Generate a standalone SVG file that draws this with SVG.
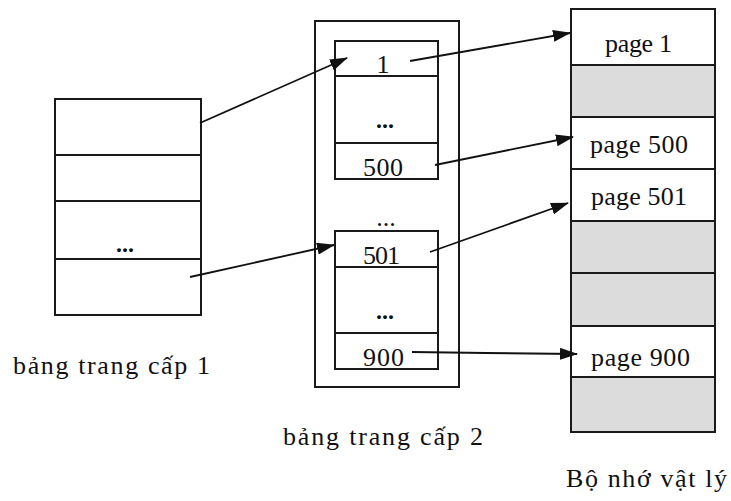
<svg xmlns="http://www.w3.org/2000/svg" width="731" height="501" viewBox="0 0 731 501">
<style>
  .box { fill: #ffffff; stroke: #1a1a1a; stroke-width: 2; }
  .ln { stroke: #1a1a1a; stroke-width: 1.8; fill: none; }
  .gray { fill: #dcdcdc; stroke: #1a1a1a; stroke-width: 2; }
  .t { font-family: "Liberation Serif", "Times New Roman", serif; font-size: 26px; fill: #111; }
  .dots { font-family: "Liberation Serif", "Times New Roman", serif; font-size: 24px; font-weight: bold; fill: #111; text-anchor: middle; }
  .arrow { stroke: #111; stroke-width: 1.8; fill: none; marker-end: url(#ah); }
</style>
<defs>
  <marker id="ah" markerWidth="18" markerHeight="12" refX="17" refY="6" orient="auto" markerUnits="userSpaceOnUse">
    <path d="M0,0 L18,6 L0,12 Z" fill="#111"/>
  </marker>
</defs>
<rect width="731" height="501" fill="#ffffff"/>

<g id="level1-table">
  <rect class="box" x="55" y="99" width="146" height="216"/>
  <line class="ln" x1="55" y1="155" x2="201" y2="155"/>
  <line class="ln" x1="55" y1="201" x2="201" y2="201"/>
  <line class="ln" x1="55" y1="259" x2="201" y2="259"/>
  <text class="dots" x="125" y="252">...</text>
  <text class="t" x="13" y="374" textLength="197" lengthAdjust="spacing">bảng trang cấp 1</text>
</g>

<g id="level2-container">
  <rect class="box" x="315" y="21" width="144" height="366"/>
  <text class="t" x="386" y="226" text-anchor="middle" font-size="20">...</text>
  <text class="t" x="283" y="445" textLength="200" lengthAdjust="spacing">bảng trang cấp 2</text>
</g>

<g id="level2-table-a">
  <rect class="box" x="335" y="41" width="103" height="138"/>
  <line class="ln" x1="335" y1="76" x2="438" y2="76"/>
  <line class="ln" x1="335" y1="143" x2="438" y2="143"/>
  <text class="t" x="383" y="73" text-anchor="middle">1</text>
  <text class="dots" x="385" y="128">...</text>
  <text class="t" x="363" y="176" textLength="40" lengthAdjust="spacing">500</text>
</g>

<g id="level2-table-b">
  <rect class="box" x="335" y="231" width="103" height="138"/>
  <line class="ln" x1="335" y1="267" x2="438" y2="267"/>
  <line class="ln" x1="335" y1="333" x2="438" y2="333"/>
  <text class="t" x="363" y="264" textLength="37" lengthAdjust="spacing">501</text>
  <text class="dots" x="385" y="319">...</text>
  <text class="t" x="363" y="366" textLength="41" lengthAdjust="spacing">900</text>
</g>

<g id="physical-memory">
  <rect class="box" x="571" y="9" width="144" height="423"/>
  <rect class="gray" x="571" y="65" width="144" height="52"/>
  <rect class="gray" x="571" y="221" width="144" height="52"/>
  <rect class="gray" x="571" y="273" width="144" height="53"/>
  <rect class="gray" x="571" y="377" width="144" height="55"/>
  <line class="ln" x1="571" y1="169" x2="715" y2="169"/>
  <text class="t" x="605" y="52" textLength="67" lengthAdjust="spacing">page 1</text>
  <text class="t" x="590" y="153" textLength="98" lengthAdjust="spacing">page 500</text>
  <text class="t" x="591" y="205" textLength="96" lengthAdjust="spacing">page 501</text>
  <text class="t" x="591" y="366" textLength="99" lengthAdjust="spacing">page 900</text>
  <text class="t" x="566" y="487" textLength="161" lengthAdjust="spacing">Bộ nhớ vật lý</text>
</g>

<g id="connectors">
  <line class="arrow" x1="200" y1="123" x2="347" y2="58"/>
  <line class="arrow" x1="190" y1="277" x2="334" y2="245"/>
  <line class="arrow" x1="410" y1="61" x2="570" y2="33"/>
  <line class="arrow" x1="435" y1="165" x2="573" y2="137"/>
  <line class="arrow" x1="430" y1="252" x2="568" y2="203"/>
  <polyline class="arrow" points="412,352 486,353 577,354"/>
</g>
</svg>
